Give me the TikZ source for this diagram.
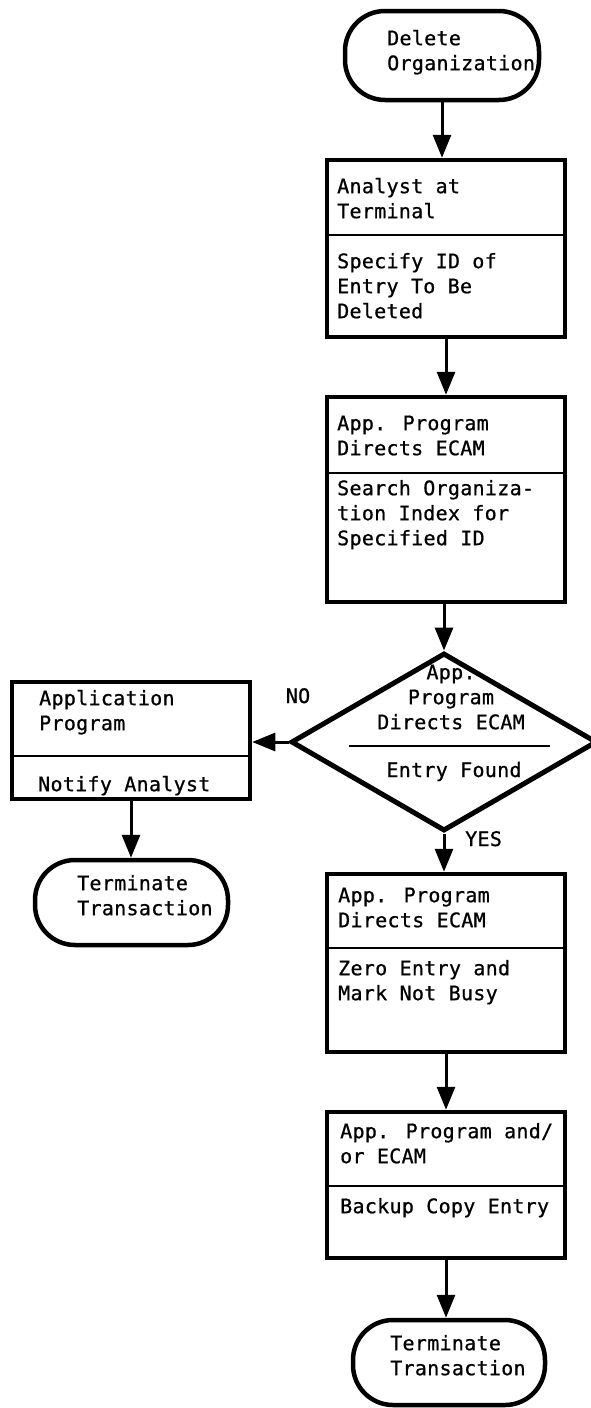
\documentclass[tikz,border=0pt]{standalone}
\usepackage{fontspec}
\newfontfamily\flowfont{DejaVu Sans Mono}[LetterSpace=1.5,FakeBold=0.8]
\usetikzlibrary{arrows.meta,shapes.geometric}
\newcommand\ftext{\fontsize{20}{25}\flowfont}
\tikzset{
  box/.style={draw, line width=4.5pt, rectangle, inner sep=0pt, minimum width=238pt},
  term/.style={draw, line width=4.5pt, rectangle, rounded corners=40pt, inner sep=0pt},
  dec/.style={draw, line width=5pt, diamond, inner sep=0pt},
  div/.style={line width=2.5pt},
  txt/.style={anchor=north west, inner sep=0pt, align=left, font=\ftext, text=black},
  ctxt/.style={inner sep=0pt, align=center, font=\ftext, text=black},
  arr/.style={line width=3pt, -{Triangle[length=23pt,width=18pt]}},
}
\newcommand\flowtext[4]{\node[txt] (#1) at (#2,{#3-17.5}) {\strut #4};}
\begin{document}
\begin{tikzpicture}[x=1pt,y=-1pt]
\fill[white] (0,0) rectangle (590,1408);
\useasboundingbox (0,0) rectangle (590,1408);

% start terminal
\node[term, minimum width=194pt, minimum height=89pt] (start) at (442,55.5) {};
\flowtext{tstart}{387}{45}{Delete\\Organization}

% box 1
\node[box, minimum height=177pt] (b1) at (446,248.5) {};
\draw[div] (b1.west |- 0,235) -- (b1.east |- 0,235);
\flowtext{t1a}{337}{193}{Analyst at\\Terminal}
\flowtext{t1b}{337}{268}{Specify ID of\\Entry To Be\\Deleted}

% box 2
\node[box, minimum height=205pt] (b2) at (446,499.5) {};
\draw[div] (b2.west |- 0,473) -- (b2.east |- 0,473);
\flowtext{t2a}{337}{430}{App. Program\\Directs ECAM}
\flowtext{t2b}{337}{495}{Search Organiza-\\tion Index for\\Specified ID}

% decision
\node[dec, minimum width=306pt, minimum height=178pt] (dia) at (444,742) {};
\draw[div] (349,746) -- (550,746);
\node[ctxt, anchor=north] (tda) at (451,{679-17.5}) {\strut App.\\Program\\Directs ECAM};
\node[ctxt, anchor=base] (tdb) at (454,777) {Entry Found};
\node[ctxt, anchor=base] (no) at (298,703) {NO};
\node[ctxt, anchor=base west] (yes) at (465,846) {YES};

% left branch
\node[box, minimum height=117pt] (lb) at (131,740.5) {};
\draw[div] (lb.west |- 0,756) -- (lb.east |- 0,756);
\flowtext{tla}{39}{705}{Application\\Program}
\flowtext{tlb}{38}{791}{Notify Analyst}
\node[term, minimum width=193pt, minimum height=85pt] (lt) at (131.5,902.5) {};
\flowtext{tlt}{77}{890}{Terminate\\Transaction}

% box 3
\node[box, minimum height=178pt] (b3) at (446,963) {};
\draw[div] (b3.west |- 0,948) -- (b3.east |- 0,948);
\flowtext{t3a}{338}{902}{App. Program\\Directs ECAM}
\flowtext{t3b}{338}{975}{Zero Entry and\\Mark Not Busy}

% box 4
\node[box, minimum height=146pt] (b4) at (446,1185) {};
\draw[div] (b4.west |- 0,1186) -- (b4.east |- 0,1186);
\flowtext{t4a}{340}{1138}{App. Program and/\\or ECAM}
\flowtext{t4b}{340}{1213}{Backup Copy Entry}

% end terminal
\node[term, minimum width=192pt, minimum height=85pt] (et) at (449,1362.5) {};
\flowtext{tet}{390}{1350}{Terminate\\Transaction}

% connectors
\draw[arr] (start.south) -- (start.south |- b1.north);
\draw[arr] (b1.south) -- (b2.north);
\draw[arr] (b2.south -| dia.north) -- (dia.north);
\draw[arr] (dia.west) -- (dia.west -| lb.east);
\draw[arr] (lb.south) -- (lb.south |- lt.north);
\draw[arr] (dia.south) -- (dia.south |- b3.north);
\draw[arr] (b3.south) -- (b4.north);
\draw[arr] (b4.south) -- (b4.south |- et.north);
\end{tikzpicture}
\end{document}
